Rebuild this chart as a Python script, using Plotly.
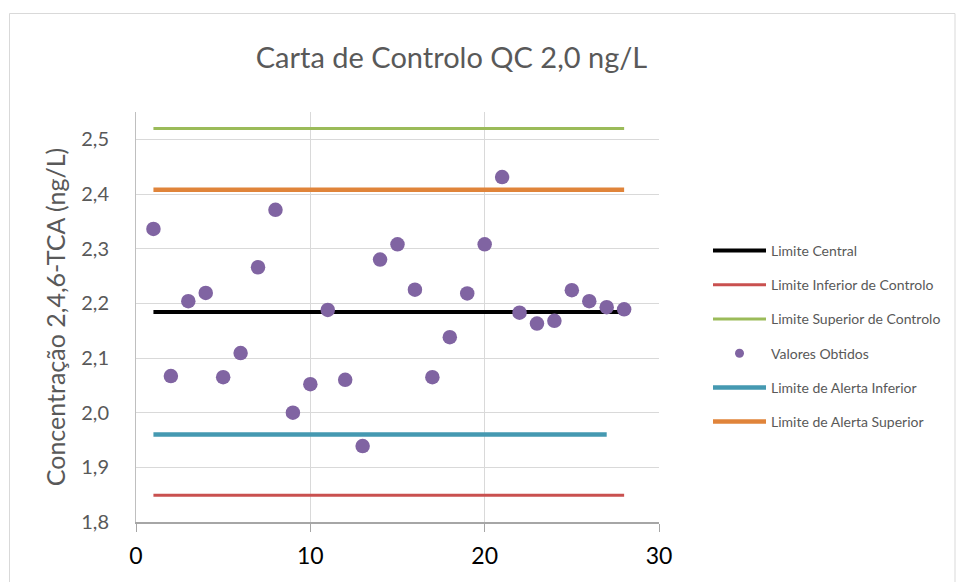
import plotly.graph_objects as go

# ---- data ----
amostras = list(range(1, 29))
valores_obtidos = [2.336, 2.067, 2.204, 2.219, 2.065, 2.109, 2.266, 2.371, 2.000, 2.052,
                   2.188, 2.060, 1.939, 2.280, 2.308, 2.225, 2.065, 2.138, 2.218, 2.308,
                   2.431, 2.183, 2.163, 2.168, 2.224, 2.204, 2.193, 2.189]
limite_central = 2.184
limite_inf_controlo = 1.849
limite_sup_controlo = 2.520
limite_alerta_inf = 1.960
limite_alerta_sup = 2.408
x_limites = [1, 28]
x_alerta_inf = [1, 27]

FONT = "Lato"
W, H = 956, 582
ML, MR, MT, MB = 136, 297, 112, 60

fig = go.Figure()

def add_line(xs, val, name, color, width, rank):
    fig.add_trace(go.Scatter(
        x=xs, y=[val] * len(xs), mode="lines", name=name,
        line=dict(color=color, width=width), legendrank=rank,
        legendgroup=name, hoverinfo="skip"))

add_line(x_limites, limite_central, "Limite Central", "#000000", 4, 1)
add_line(x_limites, limite_inf_controlo, "Limite Inferior de Controlo", "#C9504F", 3, 2)
add_line(x_limites, limite_sup_controlo, "Limite Superior de Controlo", "#9BBB59", 3, 3)
add_line(x_alerta_inf, limite_alerta_inf, "Limite de Alerta Inferior", "#4599B1", 4.5, 5)
add_line(x_limites, limite_alerta_sup, "Limite de Alerta Superior", "#E0843A", 4.5, 6)

fig.add_trace(go.Scatter(
    x=amostras, y=valores_obtidos, mode="markers", name="Valores Obtidos",
    marker=dict(color="#8064A2", size=14.5), showlegend=False))
fig.add_trace(go.Scatter(
    x=[None], y=[None], mode="markers", name="Valores Obtidos",
    marker=dict(color="#8064A2", size=9), legendrank=4, legendgroup="Valores Obtidos"))

pw = W - ML - MR
ph = H - MT - MB
fig.add_shape(type="rect", xref="paper", yref="paper",
              x0=(9.5 - ML) / pw, x1=(955 - ML) / pw,
              y0=(H - MB - 600) / ph, y1=(H - MB - 13.5) / ph,
              line=dict(color="#D9D9D9", width=1), layer="below")

fig.update_layout(
    width=W, height=H,
    margin=dict(l=ML, r=MR, t=MT, b=MB),
    paper_bgcolor="white", plot_bgcolor="white",
    separators=",.",
    font=dict(family=FONT, color="#595959"),
    title=dict(text="Carta de Controlo QC 2,0 ng/L", x=451.5 / W, xref="container",
               xanchor="center", y=1 - 58 / H, yref="container", yanchor="middle",
               font=dict(size=29, color="#595959", family=FONT)),
    xaxis=dict(range=[0, 30], dtick=10, tick0=0, showgrid=True, gridcolor="#D9D9D9",
               gridwidth=1, zeroline=False, showline=True, linecolor="#A6A6A6",
               linewidth=1.5, ticks="outside", ticklen=8, tickcolor="#A6A6A6",
               ticklabelstandoff=5,
               tickfont=dict(size=23, color="#000000", family=FONT)),
    yaxis=dict(range=[1.8, 2.55], dtick=0.1, tick0=1.8, tickformat=".1f",
               showgrid=True, gridcolor="#D9D9D9", gridwidth=1, zeroline=False,
               showline=True, linecolor="#BFBFBF", linewidth=1, ticks="",
               ticklabelstandoff=22,
               tickfont=dict(size=20, color="#595959", family=FONT),
               title=dict(text="Concentração 2,4,6-TCA (ng/L)", standoff=8,
                          font=dict(size=25, color="#595959", family=FONT))),
    legend=dict(xref="container", yref="container", x=708 / W, y=1 - 235 / H,
                xanchor="left", yanchor="top", itemwidth=53, tracegroupgap=13,
                font=dict(size=14, color="#595959", family=FONT),
                bgcolor="rgba(0,0,0,0)"),
    showlegend=True,
)

fig.write_html("out.html")
